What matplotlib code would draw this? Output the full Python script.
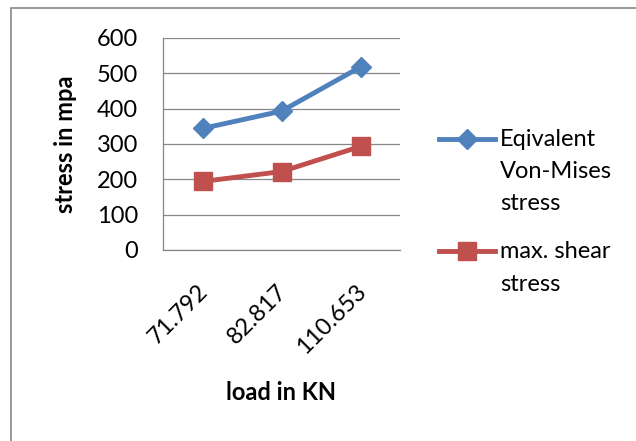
import matplotlib.pyplot as plt
from matplotlib.patches import Rectangle
from matplotlib.transforms import ScaledTranslation

# data
loads = ['71.792', '82.817', '110.653']
von_mises = [344, 393, 518]
max_shear = [194, 222, 293]

plt.rcParams['font.family'] = ['Lato', 'DejaVu Sans']
FS = 17

fig = plt.figure(figsize=(6.36, 4.41), dpi=100)
ax = fig.add_axes([163 / 636, 1 - 250 / 441, 237 / 636, 212 / 441])

x = range(len(loads))
ax.plot(x, von_mises, color='#4F81BD', lw=3.5, marker='D', ms=10,
        label='Eqivalent\nVon-Mises\nstress')
ax.plot(x, max_shear, color='#C0504D', lw=3.5, marker='s', ms=13,
        label='max. shear\nstress')

ax.set_xlim(-0.5, len(loads) - 0.5)
ax.set_ylim(0, 600)
ax.set_yticks(range(0, 601, 100))
ax.set_xticks(list(x))
ax.set_xticklabels(loads, rotation=45, ha='right', va='top',
                   rotation_mode='anchor')
ax.tick_params(axis='both', length=0, labelsize=FS)
ax.tick_params(axis='y', pad=18)
ax.tick_params(axis='x', pad=22)
shift = ScaledTranslation(-5 / 100, 0, fig.dpi_scale_trans)
for lab in ax.get_xticklabels():
    lab.set_transform(lab.get_transform() + shift)

ax.grid(axis='y', color='#878787', lw=0.9)
ax.set_axisbelow(True)
for s in ['top', 'right']:
    ax.spines[s].set_visible(False)
for s in ['left', 'bottom']:
    ax.spines[s].set_color('#878787')
    ax.spines[s].set_linewidth(0.9)

ax.set_ylabel('stress in mpa', fontsize=FS, fontweight='bold', labelpad=14)
ax.set_xlabel('load in KN', fontsize=FS, fontweight='bold', labelpad=17)

leg = ax.legend(loc='upper left', bbox_to_anchor=(1.073, 0.67), frameon=False,
                fontsize=FS, handlelength=2.4, handleheight=1.2,
                labelspacing=1.15, handletextpad=0.2)
for t in leg.get_texts():
    t.set_linespacing(1.65)
for col in leg._legend_handle_box.get_children():
    for row in col.get_children():
        row.align = 'top'

# outer chart border (top and left visible)
fig.add_artist(Rectangle((11 / 636, -0.1), 1.2, 1 - 8 / 441 + 0.1,
                         transform=fig.transFigure, fill=False,
                         edgecolor='#888888', lw=1.2))

fig.savefig('out.png', dpi=100)
